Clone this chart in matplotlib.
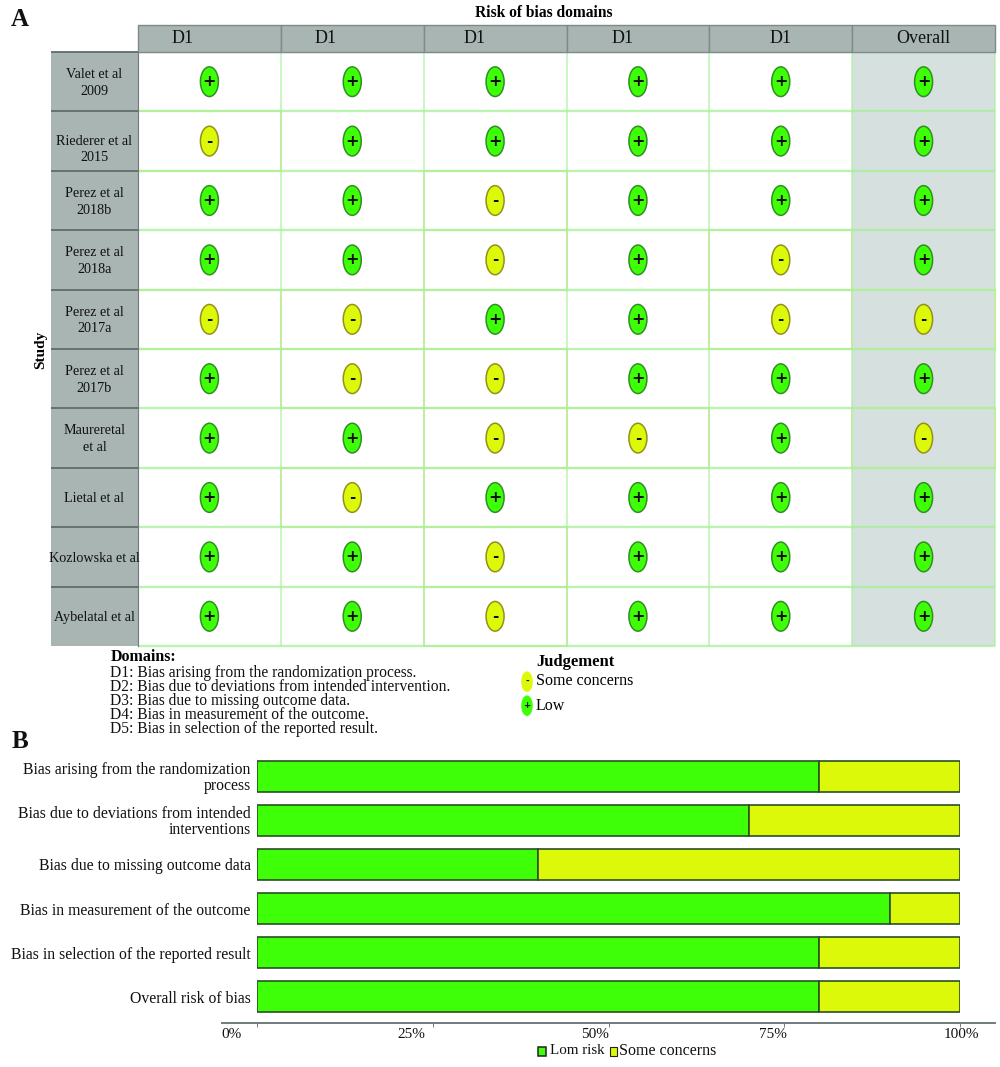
import matplotlib
matplotlib.use('Agg')
import matplotlib.pyplot as plt
from matplotlib.patches import Ellipse, Rectangle

FONT = 'Liberation Serif'
plt.rcParams['font.family'] = FONT

studies = ['Valet et al\n2009', 'Riederer et al\n2015', 'Perez et al\n2018b', 'Perez et al\n2018a',
           'Perez et al\n2017a', 'Perez et al\n2017b', 'Maureretal\net al', 'Lietal et al',
           'Kozlowska et al', 'Aybelatal et al']
domains = ['D1', 'D1', 'D1', 'D1', 'D1', 'Overall']
judgements = [['+', '+', '+', '+', '+', '+'],
              ['-', '+', '+', '+', '+', '+'],
              ['+', '+', '-', '+', '+', '+'],
              ['+', '+', '-', '+', '-', '+'],
              ['-', '-', '+', '+', '-', '-'],
              ['+', '-', '-', '+', '+', '+'],
              ['+', '+', '-', '-', '+', '-'],
              ['+', '-', '+', '+', '+', '+'],
              ['+', '+', '-', '+', '+', '+'],
              ['+', '+', '-', '+', '+', '+']]
domain_notes = ['D1: Bias arising from the randomization process.',
                'D2: Bias due to deviations from intended intervention.',
                'D3: Bias due to missing outcome data.',
                'D4: Bias in measurement of the outcome.',
                'D5: Bias in selection of the reported result.']
bias_names = ['Bias arising from the randomization\nprocess',
              'Bias due to deviations from intended\ninterventions',
              'Bias due to missing outcome data',
              'Bias in measurement of the outcome',
              'Bias in selection of the reported result',
              'Overall risk of bias']
low_risk = [80, 70, 40, 90, 80, 80]
some_concerns = [20, 30, 60, 10, 20, 20]
pct_ticks = [0, 25, 50, 75, 100]
pct_labels = ['0%', '25%', '50%', '75%', '100%']
pct_label_shift = [-26, -21, -13, -11, 1]

W, H = 1000, 1067
GREEN = '#3fff08'
YELLOW = '#dcf90a'
GREY = '#a8b5b3'
DARK = '#6f7c7b'
GRID = '#a4f096'


def px_axes(fig, left, top, right, bottom):
    return fig.add_axes([left / W, 1 - bottom / H, (right - left) / W, (bottom - top) / H])


def draw_marker(ax, x, y, sign, w=0.126, h=0.5, scale=1.0, outlined=True):
    face = GREEN if sign == '+' else YELLOW
    edge = '#2f8f22' if sign == '+' else '#94911a'
    if not outlined:
        edge = face
    ax.add_patch(Ellipse((x, y), w, h, fc=face, ec=edge, lw=1.1, zorder=4))
    ax.text(x, y, sign, ha='center', va='center', fontsize=(11.5 if sign == '+' else 11) * scale,
            fontweight='bold', color='#111111', zorder=5, family='DejaVu Sans')


def draw_panel_a(fig):
    ax = px_axes(fig, 138, 52, 995, 646)
    ax.set_xlim(0, len(domains))
    ax.set_ylim(len(studies), 0)
    ax.axis('off')

    ax.add_patch(Rectangle((5, 0), 1, len(studies), fc='#d6e0df', ec='none', zorder=0))

    for r, row in enumerate(judgements):
        for c, sign in enumerate(row):
            if sign == '-':
                # yellow cells leave a pale yellow tint on their border
                ax.add_patch(Rectangle((c, r), 1, 1, fc='none', ec='#e6eda8', lw=1.4,
                                       zorder=1, clip_on=False))
            draw_marker(ax, c + 0.5, r + 0.5, sign)

    for c in range(len(domains) + 1):
        ax.plot([c, c], [0, len(studies)], color=GRID, lw=1.1, alpha=0.75, zorder=2, clip_on=False,
                solid_capstyle='butt')
    for r in range(len(studies) + 1):
        ax.plot([0, len(domains)], [r, r], color=GRID, lw=1.7, alpha=0.75, zorder=2, clip_on=False,
                solid_capstyle='butt')

    # header and study columns live outside the grid, in the same data units
    header_x = [0.31, 0.31, 0.357, 0.39, 0.5, 0.5]
    for c, name in enumerate(domains):
        ax.add_patch(Rectangle((c, -0.455), 1, 0.455, fc=GREY, ec='#7d8a89', lw=1.0, clip_on=False, zorder=3))
        ax.text(c + header_x[c], -0.23, name, ha='center', va='center', fontsize=13,
                color='#111111', zorder=4)
    ax.add_patch(Rectangle((-0.607, 0), 0.607, len(studies), fc=GREY, ec='none', clip_on=False, zorder=3))
    ax.plot([0, 0], [0, len(studies)], color=DARK, lw=0.8, clip_on=False, zorder=3)
    for r, name in enumerate(studies):
        ax.plot([-0.607, 0], [r, r], color='#5f6c6b', lw=1.3, clip_on=False, zorder=4,
                solid_capstyle='butt')
        ypos = r + 0.5 + (0.14 if r == 1 else 0.02)
        ax.text(-0.305, ypos, name, ha='center', va='center', fontsize=10.2, linespacing=1.38,
                color='#111111', zorder=5)


def draw_notes(fig):
    fig.text(11 / W, 1 - 19 / H, 'A', fontsize=18, fontweight='bold', va='center', color='#111111')
    fig.text(12 / W, 1 - 742 / H, 'B', fontsize=18, fontweight='bold', va='center', color='#111111')
    fig.text(475 / W, 1 - 13 / H, 'Risk of bias domains', fontsize=11.2, fontweight='bold', va='center')
    fig.text(41 / W, 1 - 350 / H, 'Study', fontsize=11, fontweight='bold', rotation=90,
             ha='center', va='center')
    fig.text(111 / W, 1 - 657 / H, 'Domains:', fontsize=11.5, fontweight='bold', va='center')
    fig.text(110 / W, 1 - 701 / H, '\n'.join(domain_notes), fontsize=11.2, va='center',
             linespacing=0.85, color='#111111')
    fig.text(536 / W, 1 - 662 / H, 'Judgement', fontsize=12, fontweight='bold', va='center')
    fig.text(536 / W, 1 - 681 / H, 'Some concerns', fontsize=11.5, va='center')
    fig.text(536 / W, 1 - 706 / H, 'Low', fontsize=11.5, va='center')

    ax = px_axes(fig, 510, 670, 540, 720)
    ax.set_xlim(0, 30)
    ax.set_ylim(50, 0)
    ax.axis('off')
    draw_marker(ax, 17, 11.7, '-', w=10, h=19, scale=0.55, outlined=False)
    draw_marker(ax, 17, 35.7, '+', w=10, h=19, scale=0.55, outlined=False)


def draw_panel_b(fig):
    ax = px_axes(fig, 257, 754, 960, 1023)
    ypos = list(range(len(bias_names)))
    ax.barh(ypos, low_risk, height=0.705, color=GREEN, edgecolor='#2b4f22', lw=1.2)
    ax.barh(ypos, some_concerns, left=low_risk, height=0.705, color=YELLOW, edgecolor='#2b4f22', lw=1.2)
    ax.set_xlim(0, 100)
    ax.set_ylim(5.602, -0.511)
    ax.set_yticks(ypos)
    ax.set_yticklabels(bias_names, fontsize=11.3, color='#111111', linespacing=0.92)
    ax.tick_params(axis='y', length=0, pad=4.5)
    ax.set_xticks(pct_ticks)
    ax.set_xticklabels([])
    ax.tick_params(axis='x', length=3, width=0.7, color=DARK)
    for t, label, shift in zip(pct_ticks, pct_labels, pct_label_shift):
        ax.annotate(label, (t, 0), xycoords=('data', 'axes fraction'), xytext=(shift * 0.72, -8),
                    textcoords='offset points', ha='center', va='center', fontsize=11, color='#111111')
    for side in ['top', 'right', 'left']:
        ax.spines[side].set_visible(False)
    ax.spines['bottom'].set_bounds(-5, 105)
    ax.spines['bottom'].set_color(DARK)
    ax.spines['bottom'].set_linewidth(1.4)

    fig.patches.append(Rectangle((538 / W, 1 - 1056 / H), 8 / W, 9 / H, fc=GREEN, ec='#222222', lw=1.1,
                                 transform=fig.transFigure))
    fig.patches.append(Rectangle((610 / W, 1 - 1056 / H), 7 / W, 9 / H, fc=YELLOW, ec='#222222', lw=0.8,
                                 transform=fig.transFigure))
    fig.text(550 / W, 1 - 1051 / H, 'Lom risk', fontsize=10.8, va='center', color='#111111')
    fig.text(619 / W, 1 - 1051 / H, 'Some concerns', fontsize=11.5, va='center', color='#111111')


def main():
    fig = plt.figure(figsize=(W / 100, H / 100), dpi=100)
    draw_panel_a(fig)
    draw_notes(fig)
    draw_panel_b(fig)
    fig.savefig('out.png', dpi=100)


if __name__ == '__main__':
    main()
